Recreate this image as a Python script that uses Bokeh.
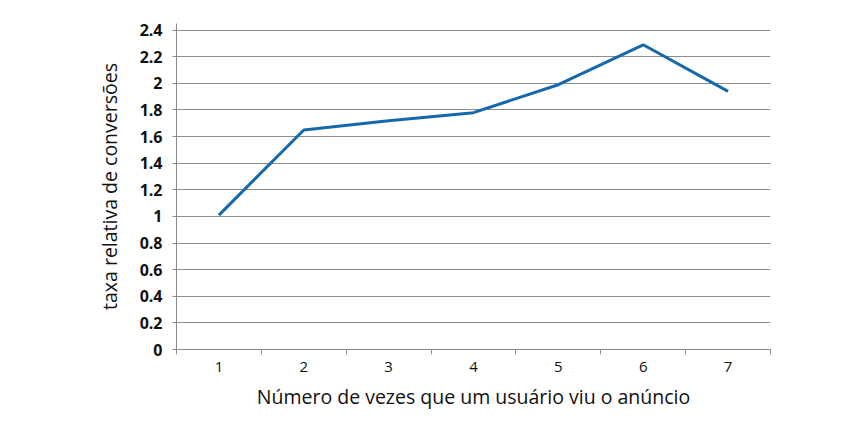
from bokeh.plotting import figure
from bokeh.models import FixedTicker, Range1d
from bokeh.embed import file_html
from bokeh.resources import INLINE

# data
views = [1, 2, 3, 4, 5, 6, 7]
rel_rate = [1.01, 1.65, 1.72, 1.78, 1.99, 2.29, 1.94]
y_ticks = [0, 0.2, 0.4, 0.6, 0.8, 1, 1.2, 1.4, 1.6, 1.8, 2, 2.2, 2.4]
y_labels = ["0", "0.2", "0.4", "0.6", "0.8", "1", "1.2", "1.4", "1.6", "1.8", "2", "2.2", "2.4"]
x_label = "Número de vezes que um usuário viu o anúncio"
y_label = "taxa relativa de conversões"

FONT = "Open Sans"
GRID = "#8c8c8c"

p = figure(width=852, height=414, output_backend="svg", toolbar_location=None,
           tools="", x_range=Range1d(0.5, 7.5), y_range=Range1d(0, 2.45))
p.min_border_left = 176
p.min_border_right = 82
p.min_border_top = 23
p.min_border_bottom = 65
p.outline_line_color = None

p.line(views, rel_rate, line_color="#1668ad", line_width=3)

# x axis: labels at the centres, ticks between the categories
xa = p.xaxis[0]
xa.ticker = FixedTicker(ticks=views, minor_ticks=[v - 0.5 for v in views] + [7.5])
xa.major_tick_in = 0
xa.major_tick_out = 0
xa.minor_tick_in = 0
xa.minor_tick_out = 5
xa.minor_tick_line_color = GRID
xa.axis_line_color = GRID
xa.major_label_text_font = FONT
xa.major_label_text_font_size = "15px"
xa.major_label_text_color = "#111111"
xa.major_label_standoff = 7
xa.axis_label = x_label
xa.axis_label_text_font = FONT
xa.axis_label_text_font_size = "19.5px"
xa.axis_label_text_font_style = "normal"
xa.axis_label_text_color = "#111111"
xa.axis_label_standoff = 8

ya = p.yaxis[0]
ya.ticker = FixedTicker(ticks=y_ticks, minor_ticks=[])
ya.major_label_overrides = dict(zip(y_ticks, y_labels))
ya.major_tick_in = 0
ya.major_tick_out = 4
ya.major_tick_line_color = GRID
ya.axis_line_color = GRID
ya.major_label_text_font = FONT
ya.major_label_text_font_size = "16px"
ya.major_label_text_font_style = "bold"
ya.major_label_text_color = "#111111"
ya.major_label_standoff = 10
ya.axis_label = y_label
ya.axis_label_text_font = FONT
ya.axis_label_text_font_size = "19.5px"
ya.axis_label_text_font_style = "normal"
ya.axis_label_text_color = "#111111"
ya.axis_label_standoff = 14

p.xgrid.grid_line_color = None
p.ygrid.grid_line_color = GRID
p.ygrid.grid_line_width = 1

open("out.html", "w").write(file_html(p, INLINE))
